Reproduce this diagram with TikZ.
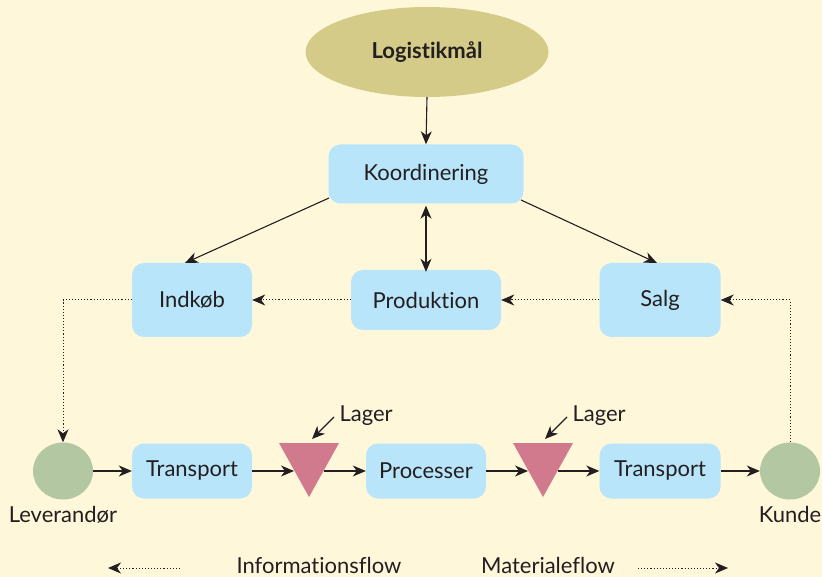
\documentclass[tikz,border=0pt]{standalone}
\usepackage{fontspec}
\setmainfont{Lato}[Ligatures={NoCommon,NoRare},RawFeature={-liga;-dlig}]
\usetikzlibrary{arrows.meta,shapes.geometric,positioning}
\definecolor{bg}{HTML}{FEF7DA}
\definecolor{boxc}{HTML}{B9E5FA}
\definecolor{ellc}{HTML}{D5CB88}
\definecolor{circc}{HTML}{B3C8A2}
\definecolor{tric}{HTML}{D17A8D}
\definecolor{ink}{HTML}{231F20}
\begin{document}
\begin{tikzpicture}[x=1pt,y=-1pt,
  txt/.style={font=\fontsize{22}{26}\selectfont, text=ink},
  pbox/.style={txt, fill=boxc, rounded corners=12pt, inner sep=0pt},
  endpt/.style={ellipse, fill=circc, minimum width=60pt, minimum height=57pt, inner sep=0pt},
  arr/.style={draw=ink, line width=1.1pt, -{Stealth[length=13pt,width=11pt,inset=4pt]}},
  darr/.style={arr, {Stealth[length=13pt,width=11pt,inset=4pt]}-{Stealth[length=13pt,width=11pt,inset=4pt]}},
  iarr/.style={arr, dotted, line width=1pt},
  lbl/.style={txt}
]
\fill[bg] (0,0) rectangle (822,577);
\useasboundingbox (0,0) rectangle (822,577);

\node[ellipse, fill=ellc, minimum width=243pt, minimum height=90pt, text=ink, font=\fontsize{22}{26}\selectfont\bfseries] (mal) at (427,52) {Logistikmål};
\node[pbox, minimum width=195pt, minimum height=59pt] (koor) at (426,174) {Koordinering};
\node[pbox, minimum width=120pt, minimum height=74pt] (ind) at (192,300) {Indkøb};
\node[pbox, minimum width=150pt, minimum height=60pt] (prod) at (426,300) {Produktion};
\node[pbox, minimum width=121pt, minimum height=74pt] (salg) at (660,300) {Salg};

\node[endpt] (lev) at (63,471) {};
\node[lbl, below=3pt of lev] (levl) {Leverandør};
\node[pbox, minimum width=120pt, minimum height=55pt] (tr1) at (192,471) {Transport};
\node[pbox, minimum width=120pt, minimum height=55pt] (proc) at (426,471) {Processer};
\node[pbox, minimum width=121pt, minimum height=55pt] (tr2) at (660,471) {Transport};
\node[endpt] (kun) at (790,471) {};
\node[lbl, below=3pt of kun] (kunl) {Kunde};

% triangles (lager)
\fill[tric] (279,443) -- (339,443) -- (309,497) -- cycle;
\fill[tric] (513,443) -- (573,443) -- (543,497) -- cycle;
\coordinate (t1w) at (294,471);
\coordinate (t1e) at (324,471);
\coordinate (t2w) at (528,471);
\coordinate (t2e) at (558,471);
\node[lbl, anchor=west] (lag1) at (336,416) {Lager};
\node[lbl, anchor=west] (lag2) at (569,416) {Lager};
\coordinate (lag1a) at (334,417);
\coordinate (lag1b) at (312,439);
\coordinate (lag2a) at (567,417);
\coordinate (lag2b) at (545,439);
\draw[arr] (lag1a) -- (lag1b);
\draw[arr] (lag2a) -- (lag2b);

% top connectors
\draw[arr] (mal.south) -- (koor.north);
\coordinate (kl) at (329,198);
\coordinate (kr) at (521,200);
\coordinate (indt) at (185,263);
\coordinate (salgt) at (657,263);
\draw[arr] (kl) -- (indt);
\draw[arr] (kr) -- (salgt);
\draw[darr] (koor.south) ++(0,2) -- ([yshift=-2pt]prod.north);

% information flow
\draw[iarr] (salg.west) -- (prod.east);
\draw[iarr] (prod.west) -- (ind.east);
\coordinate (c1) at (63,300);
\draw[iarr] (ind.west) -- (c1) -- (lev.north);
\coordinate (c2) at (790,300);
\draw[iarr] (kun.north) -- (c2) -- (salg.east);

% material flow
\draw[arr] (lev.east) -- (tr1.west);
\draw[arr] (tr1.east) -- (t1w);
\draw[arr] (t1e) -- (proc.west);
\draw[arr] (proc.east) -- (t2w);
\draw[arr] (t2e) -- (tr2.west);
\draw[arr] (tr2.east) -- (kun.west);

% legend
\node[lbl, anchor=base, inner sep=0pt] (infol) at (319,573) {Informationsflow};
\node[lbl, anchor=base, inner sep=0pt] (matl) at (548,573) {Materialeflow};
\coordinate (la) at (180,568);
\coordinate (lb) at (108,568);
\coordinate (ra) at (638,568);
\coordinate (rb) at (728,568);
\draw[iarr, line width=0.7pt] (la) -- (lb);
\draw[iarr, line width=0.7pt] (ra) -- (rb);
\end{tikzpicture}
\end{document}
